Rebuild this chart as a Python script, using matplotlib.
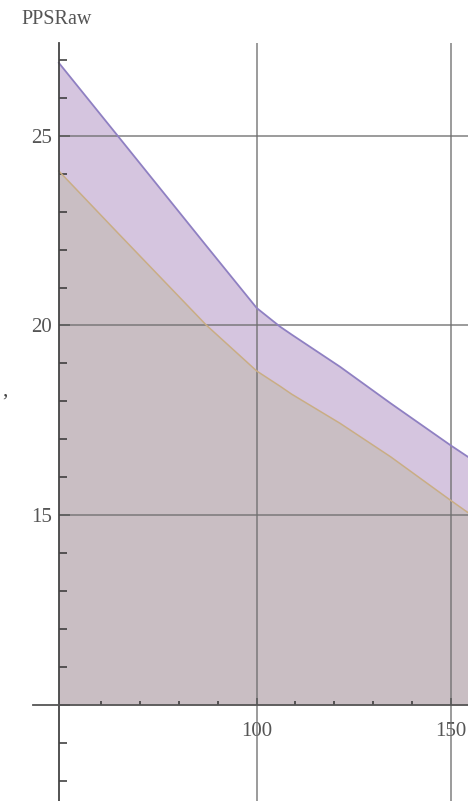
import matplotlib
matplotlib.use("Agg")
import matplotlib.pyplot as plt
import numpy as np

# PPSRaw bands
x_vals = [49, 64, 87, 100, 106, 109, 121.5, 134.5, 150, 155]
upper_vals = [26.92, 25.02, 22.1, 20.46, 19.97, 19.76, 18.91, 17.95, 16.84, 16.5]
lower_vals = [24.07, 22.46, 20.01, 18.8, 18.4, 18.19, 17.42, 16.54, 15.39, 15.03]

x_major = [100, 150]
x_minor = [60, 70, 80, 90, 110, 120, 130, 140]
y_major = [15, 20, 25]
y_minor = [8, 9, 11, 12, 13, 14, 16, 17, 18, 19, 21, 22, 23, 24, 26, 27]
y_label = "PPSRaw"

x_origin, y_origin = 49, 10
xlim = (33.84, 154.46)
ylim = (7.469, 28.576)
axis_top = 27.44
axis_left = 42.35

serif = ["Liberation Serif", "DejaVu Serif"]

W, H = 468, 801
fig = plt.figure(figsize=(W / 100, H / 100), dpi=100)
ax = fig.add_axes([0, 0, 1, 1])
ax.set_xlim(*xlim)
ax.set_ylim(*ylim)
ax.set_facecolor("white")

x = np.array(x_vals)
up = np.array(upper_vals)
lo = np.array(lower_vals)

ax.fill_between(x, lo, up, color="#d5c5df", lw=0, zorder=1)
ax.fill_between(x, y_origin, lo, color="#c9bec3", lw=0, zorder=1)
ax.plot(x, up, color="#8f80c2", lw=1.3, zorder=3)
ax.plot(x, lo, color="#c9ad84", lw=1.1, zorder=3)

# grid lines
grid_kw = dict(color="#6f6f6f", lw=1.3, alpha=0.75, zorder=2)
ax.vlines(x_major, ylim[0], axis_top, **grid_kw)
ax.hlines(y_major, x_origin, xlim[1], **grid_kw)

# axes through the origin
for s in ["top", "right"]:
    ax.spines[s].set_visible(False)
ax.spines["left"].set_position(("data", x_origin))
ax.spines["bottom"].set_position(("data", y_origin))
ax.spines["left"].set_bounds(ylim[0], axis_top)
ax.spines["bottom"].set_bounds(axis_left, xlim[1])
ax.spines["left"].set_color("#444444")
ax.spines["bottom"].set_color("#555555")
ax.spines["left"].set_linewidth(1.3)
ax.spines["bottom"].set_linewidth(1.3)
ax.spines["left"].set_zorder(4)
ax.spines["bottom"].set_zorder(4)

ax.set_xticks(x_major)
ax.set_xticks(x_minor, minor=True)
ax.set_yticks(y_major + [y_origin])
ax.set_yticklabels([str(v) for v in y_major] + [""])
ax.set_yticks(y_minor, minor=True)

ax.tick_params(axis="y", which="major", direction="in", length=8, width=1.2,
               color="#333333", labelsize=15, labelcolor="#555555", pad=5)
ax.tick_params(axis="y", which="minor", direction="in", length=6, width=1.1,
               color="#333333")
ax.tick_params(axis="x", which="major", direction="in", length=5, width=1.2,
               color="#333333", labelsize=15, labelcolor="#555555", pad=12)
ax.tick_params(axis="x", which="minor", direction="in", length=3, width=1.1,
               color="#333333")
for lab in ax.get_xticklabels() + ax.get_yticklabels():
    lab.set_family(serif)

# axis label placed in pixel coordinates (origin at bottom-left)
ax.text(21, H - 20, y_label, transform=None, fontsize=14.5, family=serif,
        color="#555555", ha="left", va="center")
ax.text(2, H - 396, ",", transform=None, fontsize=15, family=serif,
        color="#444444", ha="left", va="baseline")

fig.savefig("out.png", dpi=100)
